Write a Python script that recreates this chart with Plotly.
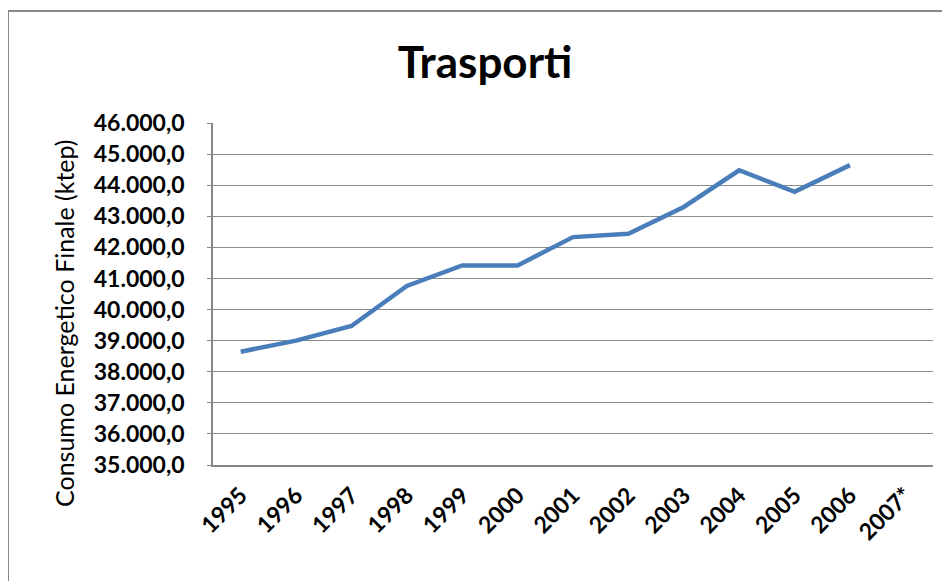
import plotly.graph_objects as go

categories = ["1995", "1996", "1997", "1998", "1999", "2000", "2001",
              "2002", "2003", "2004", "2005", "2006", "2007*"]
values = [38645, 39000, 39470, 40760, 41420, 41420, 42330,
          42440, 43300, 44480, 43785, 44645, None]

title_text = "Trasporti"
y_title = "Consumo Energetico Finale (ktep)"

OFF = 8  # default page body margin
W, H = 950 - OFF, 581 - OFF
PL, PR, PT, PB = 213 - OFF, 933 - OFF, 123 - OFF, 465 - OFF
pw, ph = PR - PL, PB - PT

def px_x(x):
    return (x - OFF - PL) / pw

def px_y(y):
    return (PB - (y - OFF)) / ph

fig = go.Figure()
fig.add_trace(go.Scatter(
    x=categories, y=values, mode="lines",
    line=dict(color="#4A7EBB", width=4.5),
    connectgaps=False, showlegend=False, hoverinfo="x+y"))

fig.update_layout(
    width=W, height=H,
    margin=dict(l=PL, r=W - PR, t=PT, b=H - PB, autoexpand=False),
    paper_bgcolor="white", plot_bgcolor="white",
    separators=",.",
    font=dict(family="Lato, 'Open Sans', sans-serif", color="#000000"),
    title=dict(text="<b>" + title_text + "</b>", x=(485 - OFF) / W, xanchor="center",
               y=1 - (63 - OFF) / H, yanchor="middle", yref="container",
               font=dict(size=44, family="Lato, sans-serif", color="#000")),
    xaxis=dict(type="category", categoryorder="array", categoryarray=categories,
               range=[-0.5, len(categories) - 0.5],
               tickangle=-45, showgrid=False, showline=True,
               linecolor="#868686", linewidth=1.5, ticks="",
               ticklabelstandoff=6,
               tickfont=dict(size=23, family="Lato, sans-serif", color="#000", weight="bold"),
               fixedrange=True),
    yaxis=dict(range=[35000, 46000], dtick=1000, tickformat=",.1f",
               showgrid=True, gridcolor="#8c8c8c", gridwidth=1,
               showline=True, linecolor="#868686", linewidth=1.5,
               ticks="outside", ticklen=4, tickcolor="#868686",
               ticklabelstandoff=18,
               tickfont=dict(size=23, family="Lato, sans-serif", color="#000", weight="bold"),
               zeroline=False, fixedrange=True),
    annotations=[dict(text=y_title, textangle=-90, showarrow=False,
                      xref="paper", yref="paper",
                      x=px_x(64), y=px_y(323), xanchor="center", yanchor="middle",
                      font=dict(size=25, family="Lato, sans-serif", color="#000"))],
    shapes=[dict(type="rect", xref="paper", yref="paper",
                 x0=px_x(8), x1=px_x(965), y0=px_y(600), y1=px_y(11),
                 line=dict(color="#8a8a8a", width=2), fillcolor="rgba(0,0,0,0)",
                 layer="below")],
)

fig.write_html("out.html")
